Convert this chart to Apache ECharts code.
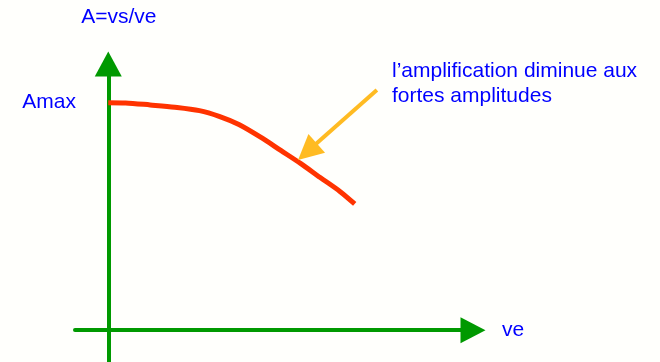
<!DOCTYPE html>
<html>
<head>
<meta charset="utf-8">
<script src="https://cdn.jsdelivr.net/npm/echarts@6/dist/echarts.min.js"></script>
<style>
  html, body { margin: 0; padding: 0; background: #fffffc; }
  #chart { width: 660px; height: 362px; }
</style>
</head>
<body>
<div id="chart"></div>
<script>
// courbe A = f(ve), unités arbitraires (Amax = 1)
const veValues = [0, 0.7, 1.7, 2.7, 3.7, 4.5, 5.3, 6.2, 7.0, 7.8, 8.6, 9.4, 10.0]
const ampValues = [1.0, 0.999, 0.99, 0.98, 0.965, 0.94, 0.904, 0.847, 0.79, 0.733, 0.671, 0.61, 0.555]
// flèche d'annotation (début, fin)
const arrowStart = [10.9, 1.056]
const arrowEnd = [8.08, 0.785]
const yName = 'A=vs/ve'
const xName = 've'
const maxLabel = 'Amax'
const note = 'l\u2019amplification diminue aux\nfortes amplitudes'

const font = 'Liberation Sans, Arial, sans-serif'
const green = '#009900'
const blue = '#0000ff'

const myChart = echarts.init(document.getElementById('chart'))
myChart.setOption({
  backgroundColor: '#fffffc',
  animation: false,
  title: {
    text: note,
    left: 392,
    top: 59,
    padding: 0,
    textStyle: {
      color: blue,
      fontFamily: font,
      fontSize: 21,
      fontWeight: 'normal',
      lineHeight: 25
    }
  },
  grid: {
    left: 75,
    right: 187,
    top: 64,
    bottom: 0,
    containLabel: false,
    outerBoundsMode: 'none'
  },
  xAxis: {
    type: 'value',
    min: -1.35,
    max: 14.8,
    name: xName,
    nameLocation: 'end',
    nameGap: 29,
    nameTextStyle: { color: blue, fontFamily: font, fontSize: 21 },
    splitLine: { show: false },
    axisTick: { show: false },
    axisLabel: { show: false },
    axisLine: {
      onZero: true,
      symbol: ['none', 'triangle'],
      symbolSize: [26, 25],
      lineStyle: { color: green, width: 4 }
    }
  },
  yAxis: {
    type: 'value',
    min: -0.14,
    max: 1.17,
    name: yName,
    nameLocation: 'end',
    nameGap: 36,
    nameTextStyle: { color: blue, fontFamily: font, fontSize: 21, padding: [0, 0, 0, 21] },
    splitLine: { show: false },
    axisTick: { show: false },
    axisLabel: {
      customValues: [1],
      formatter: function() { return maxLabel },
      margin: -1,
      color: blue,
      fontFamily: font,
      fontSize: 21,
      padding: [0, 0, 7, 0]
    },
    axisLine: {
      onZero: true,
      symbol: ['none', 'triangle'],
      symbolSize: [27, 25],
      lineStyle: { color: green, width: 4 }
    }
  },
  series: [
    {
      type: 'line',
      data: veValues.map((v, i) => [v, ampValues[i]]),
      smooth: 0.3,
      showSymbol: false,
      lineStyle: { color: '#ff3300', width: 5 },
      z: 3,
      markLine: {
        silent: true,
        symbol: ['none', 'triangle'],
        symbolSize: [25, 25],
        label: { show: false },
        lineStyle: { color: '#ffbb22', width: 4, type: 'solid' },
        data: [[{ coord: arrowStart }, { coord: arrowEnd }]]
      }
    }
  ]
})
</script>
</body>
</html>
